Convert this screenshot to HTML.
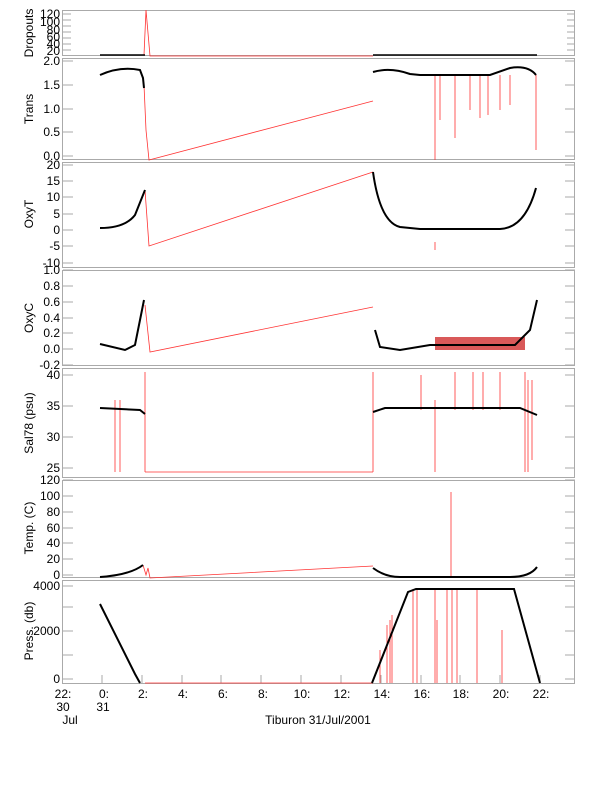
<!DOCTYPE html><html><head><style>body{margin:0;background:#fff}svg{display:block}text{font-family:"Liberation Sans",sans-serif;font-size:12px;fill:#000}</style></head><body>
<svg width="612" height="785" xmlns="http://www.w3.org/2000/svg">
<g fill="none" stroke="#aaa" stroke-width="1">
<rect x="62.5" y="10.5" width="512" height="45"/>
<rect x="62.5" y="58.5" width="512" height="101"/>
<rect x="62.5" y="162.5" width="512" height="105"/>
<rect x="62.5" y="270.5" width="512" height="95"/>
<rect x="62.5" y="368.5" width="512" height="109"/>
<rect x="62.5" y="480.5" width="512" height="97"/>
<rect x="62.5" y="580.5" width="512" height="103"/>
</g>
<g stroke="#aaa" stroke-width="1">
<path d="M63 14h8M63 20h8M63 26h8M63 32h8M63 38h8M63 44h8M63 50h8M575 14h-8M575 20h-8M575 26h-8M575 32h-8M575 38h-8M575 44h-8M575 50h-8"/>
<path d="M63 61h10M63 85h10M63 109h10M63 132h10M63 156h10M575 61h-10M575 85h-10M575 109h-10M575 132h-10M575 156h-10"/>
<path d="M63 165h10M63 181h10M63 197h10M63 214h10M63 230h10M63 246h10M63 263h10M575 165h-10M575 181h-10M575 197h-10M575 214h-10M575 230h-10M575 246h-10M575 263h-10"/>
<path d="M63 270h10M63 286h10M63 302h10M63 318h10M63 333h10M63 349h10M63 365h10M575 270h-10M575 286h-10M575 302h-10M575 318h-10M575 333h-10M575 349h-10M575 365h-10"/>
<path d="M63 375h10M63 406h10M63 437h10M63 468h10M575 375h-10M575 406h-10M575 437h-10M575 468h-10"/>
<path d="M63 480h10M63 496h10M63 512h10M63 528h10M63 543h10M63 559h10M63 575h10M575 480h-10M575 496h-10M575 512h-10M575 528h-10M575 543h-10M575 559h-10M575 575h-10"/>
<path d="M63 586h10M63 607h10M63 631h10M63 655h10M63 679h10M575 586h-10M575 607h-10M575 631h-10M575 655h-10M575 679h-10"/>
<path d="M102 683v-8M142 683v-8M182 683v-8M221 683v-8M261 683v-8M301 683v-8M341 683v-8M381 683v-8M421 683v-8M460 683v-8M500 683v-8M540 683v-8"/>
</g>
<g text-anchor="end">
<text x="60" y="18" font-size="11">120</text><text x="60" y="26" font-size="11">100</text><text x="60" y="34" font-size="11">80</text><text x="60" y="41" font-size="11">60</text><text x="60" y="48" font-size="11">40</text><text x="60" y="55" font-size="11">20</text>
<text x="60" y="65">2.0</text><text x="60" y="113">1.0</text><text x="60" y="89">1.5</text><text x="60" y="136">0.5</text><text x="60" y="160">0.0</text>
<text x="60" y="169">20</text><text x="60" y="185">15</text><text x="60" y="201">10</text><text x="60" y="218">5</text><text x="60" y="234">0</text><text x="60" y="250">-5</text><text x="60" y="267">-10</text>
<text x="60" y="274">1.0</text><text x="60" y="290">0.8</text><text x="60" y="306">0.6</text><text x="60" y="322">0.4</text><text x="60" y="337">0.2</text><text x="60" y="353">0.0</text><text x="60" y="369">-0.2</text>
<text x="60" y="379">40</text><text x="60" y="410">35</text><text x="60" y="441">30</text><text x="60" y="472">25</text>
<text x="60" y="484">120</text><text x="60" y="500">100</text><text x="60" y="516">80</text><text x="60" y="532">60</text><text x="60" y="547">40</text><text x="60" y="563">20</text><text x="60" y="579">0</text>
<text x="60" y="590">4000</text><text x="60" y="635">2000</text><text x="60" y="683">0</text>
</g>
<g text-anchor="middle">
<text transform="translate(33,33) rotate(-90)">Dropouts</text>
<text transform="translate(33,109) rotate(-90)">Trans</text>
<text transform="translate(33,214) rotate(-90)">OxyT</text>
<text transform="translate(33,318) rotate(-90)">OxyC</text>
<text transform="translate(33,423) rotate(-90)">Sal78 (psu)</text>
<text transform="translate(33,528) rotate(-90)">Temp. (C)</text>
<text transform="translate(33,631) rotate(-90)">Press. (db)</text>
</g>
<g text-anchor="middle">
<text x="63" y="698">22:</text><text x="104" y="698">0:</text><text x="143" y="698">2:</text><text x="183" y="698">4:</text><text x="223" y="698">6:</text><text x="263" y="698">8:</text><text x="302" y="698">10:</text><text x="342" y="698">12:</text><text x="382" y="698">14:</text><text x="422" y="698">16:</text><text x="461" y="698">18:</text><text x="501" y="698">20:</text><text x="541" y="698">22:</text>
<text x="63" y="711">30</text><text x="103" y="711">31</text><text x="70" y="724">Jul</text>
<text x="318" y="724">Tiburon 31/Jul/2001</text>
</g>
<g fill="none" stroke="#f33" stroke-width="0.8">
<path d="M144 55L146 10L150 56L373 56"/>
<path d="M144 85L146 130L149 160L373 101"/>
<path d="M145 190L149 246L373 172"/>
<path d="M145 305L150 352L373 307"/>
<path d="M115 400V472M120 400V472M145 372V472M145 472H373M373 372V472M435 400V472M421 375V410M455 372V410M473 372V410M483 372V410M500 372V410M525 372V472M528 380V472M532 380V460"/>
<path d="M143 565L146 575L148 568L150 578L373 566M451 492V577"/>
<path d="M145 683H373M380 650V683M387 625V683M390 620V683M392 615V683M413 589V683M417 589V683M435 589V683M437 620V683M447 589V683M452 589V683M457 589V683M477 589V683M502 630V683"/>
<path d="M435 75V160M440 75V120M455 75V138M470 75V110M480 75V118M488 75V115M500 75V110M510 75V105M536 75V150"/>
<path d="M435 242V250"/>
</g>
<rect x="435" y="337" width="90" height="13" fill="#c22" opacity="0.75"/>
<g fill="none" stroke="#000" stroke-width="2">
<path d="M100 55H145M373 55H537" stroke-width="1.5"/>
<path d="M100 75Q120 66 140 70L143 78L144 88"/>
<path d="M373 72Q390 67 410 74L420 75H490L510 68Q528 65 536 75"/>
<path d="M100 228Q125 228 135 215L145 190"/>
<path d="M373 172Q380 222 400 227L420 229H500Q525 228 536 188"/>
<path d="M100 344L125 350L135 345L140 320L144 300"/>
<path d="M375 330L380 347L400 350L430 345H515L530 330L537 300"/>
<path d="M100 408L140 410L145 414"/>
<path d="M373 412L385 408H520L537 415"/>
<path d="M100 577Q130 575 143 565"/>
<path d="M373 568Q385 577 400 577H510Q530 577 537 567"/>
<path d="M100 604L135 674L140 683"/>
<path d="M372 683L408 592L416 589H514L540 683"/>
</g>
</svg>
</body></html>
